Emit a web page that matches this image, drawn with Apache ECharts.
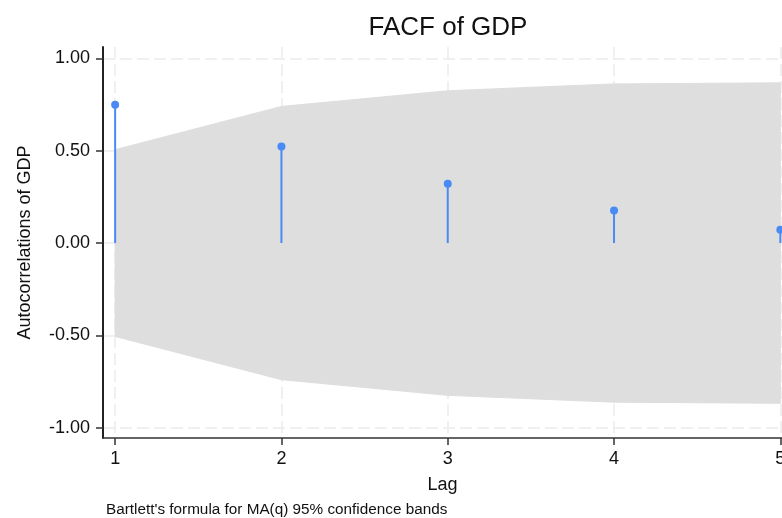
<!DOCTYPE html>
<html>
<head>
<meta charset="utf-8">
<script src="https://cdn.jsdelivr.net/npm/echarts@6/dist/echarts.min.js"></script>
<style>
html,body{margin:0;padding:0;background:#fff;}
#chart{width:782px;height:518px;}
</style>
</head>
<body>
<div id="chart"></div>
<script>
const lags = [1, 2, 3, 4, 5];
const acf = [0.749, 0.523, 0.321, 0.177, 0.072];
const bandUpper = [0.506, 0.740, 0.825, 0.862, 0.868];
const bandLower = [-0.506, -0.740, -0.825, -0.862, -0.868];
const xTicks = [1, 2, 3, 4, 5];
const yTicks = [-1, -0.5, 0, 0.5, 1];
const titleText = 'FACF of GDP';
const noteText = "Bartlett's formula for MA(q) 95% confidence bands";

const FONT = '"Liberation Sans", Arial, Helvetica, sans-serif';
const BLUE = '#4a8af4';
const chart = echarts.init(document.getElementById('chart'), null, {renderer: 'canvas'});

const gridLine = {show: true, lineStyle: {color: '#ebebeb', width: 1.5, type: [12, 5]}};
const bandData = lags.map((l, i) => [l, bandLower[i], bandUpper[i]]);

chart.setOption({
  animation: false,
  backgroundColor: '#fff',
  grid: {left: 103, right: 0, top: 47, bottom: 80, containLabel: false, outerBoundsMode: 'none'},
  graphic: [
    {type: 'text', x: 448, y: 28, style: {text: titleText, font: '26px ' + FONT, fill: '#111', textAlign: 'center', textVerticalAlign: 'middle'}},
    {type: 'text', x: 106, y: 510, style: {text: noteText, font: '15.3px ' + FONT, fill: '#111', textAlign: 'left', textVerticalAlign: 'middle'}}
  ],
  xAxis: {
    type: 'value', min: 0.927, max: 5.01,
    name: 'Lag', nameLocation: 'middle', nameGap: 38,
    nameTextStyle: {fontSize: 18, color: '#111', fontFamily: FONT},
    axisLine: {show: true, onZero: false, lineStyle: {color: '#333', width: 1.5}},
    axisTick: {show: true, length: 7, customValues: xTicks, lineStyle: {color: '#333', width: 1.5}},
    axisLabel: {customValues: xTicks, fontSize: 18, color: '#111', fontFamily: FONT, margin: 12},
    splitLine: gridLine
  },
  yAxis: {
    type: 'value', min: -1.056, max: 1.062,
    name: 'Autocorrelations of GDP', nameLocation: 'middle', nameGap: 69, nameRotate: 90,
    nameTextStyle: {fontSize: 18, color: '#111', fontFamily: FONT},
    axisLine: {show: true, onZero: false, lineStyle: {color: '#222', width: 2}},
    axisTick: {show: true, length: 7, customValues: yTicks, lineStyle: {color: '#333', width: 1.5}},
    axisLabel: {customValues: yTicks, fontSize: 18, color: '#111', fontFamily: FONT, margin: 13,
      formatter: v => Number(v).toFixed(2)},
    splitLine: gridLine
  },
  series: [
    {
      type: 'custom', silent: true, clip: true,
      data: bandData,
      renderItem: function (params, api) {
        if (params.dataIndex !== 0) return null;
        const pts = [];
        for (let i = 0; i < bandData.length; i++) pts.push(api.coord([bandData[i][0], bandData[i][2]]));
        for (let i = bandData.length - 1; i >= 0; i--) pts.push(api.coord([bandData[i][0], bandData[i][1]]));
        return {type: 'polygon', shape: {points: pts}, style: {fill: '#dedede', stroke: '#dedede', lineWidth: 1}};
      }
    },
    {
      type: 'custom',
      clip: false,
      data: lags.map((l, i) => [l, acf[i]]),
      renderItem: function (params, api) {
        const p0 = api.coord([api.value(0), 0]);
        const p1 = api.coord([api.value(0), api.value(1)]);
        return {type: 'line', shape: {x1: p0[0], y1: p0[1], x2: p1[0], y2: p1[1]},
          style: {stroke: BLUE, lineWidth: 2}};
      }
    },
    {
      type: 'scatter', symbol: 'circle', symbolSize: 8, clip: false,
      itemStyle: {color: BLUE, opacity: 1},
      data: lags.map((l, i) => [l, acf[i]])
    }
  ]
});
</script>
</body>
</html>
